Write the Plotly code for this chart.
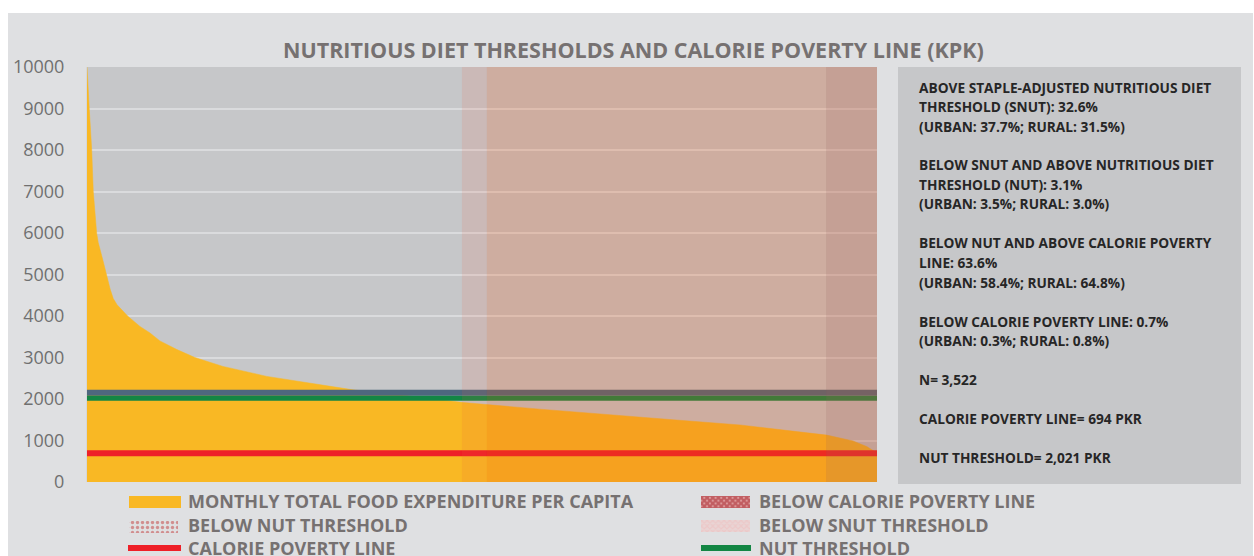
import plotly.graph_objects as go

# ---- data -------------------------------------------------------------
N_HOUSEHOLDS = 3522

# households sorted by monthly food expenditure per capita (rank -> PKR)
rank = [1, 5, 11, 22, 29, 44, 51, 71, 89, 104, 118, 135, 156, 182, 237,
        282, 326, 402, 482, 607, 803, 995, 1187, 1395, 1574, 1678, 2020,
        2317, 2613, 2911, 3209, 3298, 3415, 3476, 3522]
expenditure = [10000, 9500, 9000, 8000, 7000, 6000, 5770, 5360, 4960, 4650,
               4420, 4270, 4150, 4000, 3750, 3590, 3400, 3190, 3000, 2785,
               2545, 2385, 2220, 2100, 1980, 1915, 1755, 1620, 1500, 1375,
               1190, 1130, 990, 855, 700]

# thresholds (PKR)
calorie_poverty_line = 694
nut_threshold = 2021
snut_threshold = 2150

# household ranks where each shaded band begins / ends
band_names = ["BELOW SNUT THRESHOLD", "BELOW NUT THRESHOLD",
              "BELOW CALORIE POVERTY LINE"]
band_start = [1672, 1783, 3295]
band_end = [1783, 3295, 3522]

y_ticks = list(range(0, 10001, 1000))

info_lines = [
    "ABOVE STAPLE-ADJUSTED NUTRITIOUS DIET",
    "THRESHOLD (SNUT): 32.6%",
    "(URBAN: 37.7%; RURAL: 31.5%)",
    "",
    "BELOW SNUT AND ABOVE NUTRITIOUS DIET",
    "THRESHOLD (NUT): 3.1%",
    "(URBAN: 3.5%; RURAL: 3.0%)",
    "",
    "BELOW NUT AND ABOVE CALORIE POVERTY",
    "LINE: 63.6%",
    "(URBAN: 58.4%; RURAL: 64.8%)",
    "",
    "BELOW CALORIE POVERTY LINE: 0.7%",
    "(URBAN: 0.3%; RURAL: 0.8%)",
    "",
    "N= 3,522",
    "",
    "CALORIE POVERTY LINE= 694 PKR",
    "",
    "NUT THRESHOLD= 2,021 PKR",
]

# ---- page geometry (pixels) -----------------------------------------
W, H = 1254, 556
PLOT_L, PLOT_R, PLOT_T, PLOT_B = 87, 877, 67, 482


def px(x):
    return x / W


def py(y):
    return 1 - y / H


ORANGE = "#f9b824"
GREY_TXT = "#767171"
FONT = "Open Sans"

fig = go.Figure()

# expenditure curve
fig.add_trace(go.Scatter(
    x=rank, y=expenditure, mode="lines", fill="tozeroy",
    fillcolor=ORANGE, line=dict(width=0.5, color=ORANGE),
    name="MONTHLY TOTAL FOOD EXPENDITURE PER CAPITA", showlegend=False,
    hoverinfo="skip"))

# threshold lines
for val, col, w, nm in [
        (snut_threshold, "#4e677e", 6, "SNUT THRESHOLD"),
        (nut_threshold, "#138644", 5, "NUT THRESHOLD"),
        (calorie_poverty_line, "#ee2028", 6, "CALORIE POVERTY LINE")]:
    fig.add_trace(go.Scatter(
        x=[1, N_HOUSEHOLDS], y=[val, val], mode="lines",
        line=dict(color=col, width=w), name=nm, showlegend=False,
        hoverinfo="skip"))

shapes = []
# outer panel and plotting area backgrounds
shapes.append(dict(type="rect", xref="paper", yref="paper",
                   x0=px(8), x1=px(1253), y0=py(560), y1=py(13),
                   fillcolor="#dfe0e2", line=dict(width=0), layer="below"))
shapes.append(dict(type="rect", xref="paper", yref="paper",
                   x0=px(PLOT_L), x1=px(PLOT_R), y0=py(PLOT_B), y1=py(PLOT_T),
                   fillcolor="#c6c7c9", line=dict(width=0), layer="below"))
# info box
shapes.append(dict(type="rect", xref="paper", yref="paper",
                   x0=px(898), x1=px(1241), y0=py(484), y1=py(67),
                   fillcolor="#c6c7c9", line=dict(width=0), layer="below"))

# shaded bands over the curve
band_fill = ["rgba(235,90,60,0.12)", "rgba(235,81,15,0.22)",
             "rgba(195,90,52,0.35)"]
for s, e, c in zip(band_start, band_end, band_fill):
    shapes.append(dict(type="rect", xref="x", yref="y", x0=s, x1=e,
                       y0=0, y1=10000, fillcolor=c, line=dict(width=0),
                       layer="above"))

# legend line swatches
shapes.append(dict(type="line", xref="paper", yref="paper",
                   x0=px(128), x1=px(181), y0=py(548), y1=py(548),
                   line=dict(color="#ee2028", width=6)))
shapes.append(dict(type="line", xref="paper", yref="paper",
                   x0=px(701), x1=px(751), y0=py(548), y1=py(548),
                   line=dict(color="#138644", width=6)))
# legend solid swatch
shapes.append(dict(type="rect", xref="paper", yref="paper",
                   x0=px(129), x1=px(181), y0=py(508), y1=py(496),
                   fillcolor=ORANGE, line=dict(width=0)))


# patterned legend swatches drawn on a pixel-unit overlay axis
def swatch(x0, x1, y0, y1, pattern):
    fig.add_trace(go.Scatter(
        x=[x0, x1, x1, x0, x0], y=[y0, y0, y1, y1, y0],
        xaxis="x3", yaxis="y3", mode="lines", fill="toself",
        fillcolor="rgba(0,0,0,0)", line=dict(width=0),
        fillpattern=pattern, showlegend=False, hoverinfo="skip"))


swatch(129, 178, 521, 533, dict(shape=".", fgcolor="#c43c3c",
                                bgcolor="rgba(0,0,0,0)", size=5,
                                solidity=0.35))
swatch(701, 750, 496, 508, dict(shape="x", fgcolor="#a01018",
                                bgcolor="#e3aaaa", size=4, solidity=0.8))
swatch(701, 750, 520, 532, dict(shape="x", fgcolor="#efbcbc",
                                bgcolor="#e9d4d4", size=4, solidity=0.5))

annotations = []
annotations.append(dict(
    text="NUTRITIOUS DIET THRESHOLDS AND CALORIE POVERTY LINE (KPK)",
    xref="paper", yref="paper", x=px(633), y=py(49), xanchor="center",
    yanchor="middle", showarrow=False,
    font=dict(family=FONT, size=21.5, color=GREY_TXT, weight="bold")))

legend_items = [
    ("MONTHLY TOTAL FOOD EXPENDITURE PER CAPITA", 186, 501),
    ("BELOW NUT THRESHOLD", 186, 525),
    ("CALORIE POVERTY LINE", 186, 548),
    ("BELOW CALORIE POVERTY LINE", 757, 501),
    ("BELOW SNUT THRESHOLD", 757, 525),
    ("NUT THRESHOLD", 757, 548),
]
for txt, lx, ly in legend_items:
    annotations.append(dict(
        text=txt, xref="paper", yref="paper", x=px(lx), y=py(ly),
        xanchor="left", yanchor="middle", showarrow=False,
        font=dict(family=FONT, size=18, color=GREY_TXT, weight="bold")))

for i, line in enumerate(info_lines):
    if not line:
        continue
    annotations.append(dict(
        text=line, xref="paper", yref="paper", x=px(917),
        y=py(87 + 19.5 * i), xanchor="left", yanchor="middle",
        showarrow=False,
        font=dict(family=FONT, size=13.7, color="#262626", weight="bold")))

fig.update_layout(
    width=W, height=H,
    margin=dict(l=0, r=0, t=0, b=0, pad=0, autoexpand=False),
    paper_bgcolor="white", plot_bgcolor="rgba(0,0,0,0)",
    showlegend=False,
    xaxis=dict(domain=[px(PLOT_L), px(PLOT_R)], range=[1, N_HOUSEHOLDS],
               showgrid=False, zeroline=False, showticklabels=False,
               showline=False, fixedrange=True),
    yaxis=dict(domain=[py(PLOT_B), py(PLOT_T)], range=[0, 10000],
               tickvals=y_ticks, ticktext=[str(v) for v in y_ticks],
               showgrid=True, gridcolor="#dadbdd", gridwidth=1.5,
               zeroline=False, showline=True, linecolor="#d6d7d9",
               linewidth=1, ticks="", ticklabelstandoff=18,
               tickfont=dict(family=FONT, size=18, color="#707070"),
               fixedrange=True),
    xaxis3=dict(domain=[0, 1], range=[0, W], visible=False,
                fixedrange=True, anchor="y3"),
    yaxis3=dict(domain=[0, 1], range=[H, 0], visible=False,
                fixedrange=True, anchor="x3"),
    shapes=shapes,
    annotations=annotations,
)

fig.write_html("out.html")
